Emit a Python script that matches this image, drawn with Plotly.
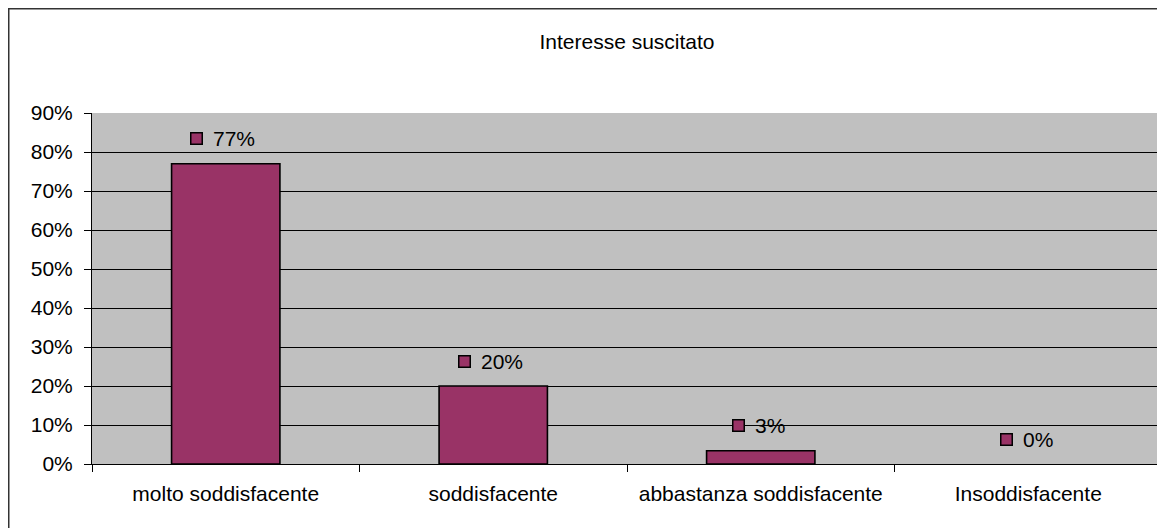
import plotly.graph_objects as go

categories = ["molto soddisfacente", "soddisfacente", "abbastanza soddisfacente", "Insoddisfacente"]
values = [77, 20, 3.4, 0]
labels = ["77%", "20%", "3%", "0%"]
y_ticks = [0, 10, 20, 30, 40, 50, 60, 70, 80, 90]
y_tick_labels = ["0%", "10%", "20%", "30%", "40%", "50%", "60%", "70%", "80%", "90%"]
title_text = "Interesse suscitato"

# page has an 8px body margin, so the figure is sized/placed accordingly
W, H = 1157, 520
ML, MR, MT, MB = 84, 3, 105, 64
BAR_COLOR = "#993366"
FONT = "Liberation Sans, Arial, sans-serif"
FS = 21

# no outline for zero-height bars (as in the original)
outline_widths = [1.6 if v > 0 else 0 for v in values]

fig = go.Figure()
fig.add_trace(go.Bar(
    x=categories, y=values,
    marker=dict(color=BAR_COLOR, line=dict(color="black", width=outline_widths)),
    width=0.405,
    hoverinfo="skip",
))

annotations = []
for cat, val, lab in zip(categories, values, labels):
    text_w = 0.667 * FS * len(lab)  # approximate label width in px
    group_w = 13 + 8 + text_w
    start = -group_w / 2 - 4
    annotations.append(dict(
        x=cat, y=val, xref="x", yref="y", text="", showarrow=False,
        width=10, height=10, bgcolor=BAR_COLOR, bordercolor="black", borderwidth=1.5,
        borderpad=0, xanchor="center", yanchor="middle",
        xshift=start + 6.5, yshift=25,
    ))
    annotations.append(dict(
        x=cat, y=val, xref="x", yref="y", text=lab, showarrow=False,
        xanchor="left", yanchor="middle", xshift=start + 21, yshift=25,
        font=dict(family=FONT, size=FS, color="black"),
    ))

pw = W - ML - MR
ph = H - MT - MB
# outer chart border (left and top edges visible)
x_left = (0.0 - ML) / pw
y_top = (H - MB - 0.0) / ph
shapes = [
    dict(type="line", xref="paper", yref="paper", x0=x_left, x1=x_left, y0=y_top, y1=-0.3,
         line=dict(color="#333333", width=3)),
    dict(type="line", xref="paper", yref="paper", x0=x_left, x1=1.05, y0=y_top, y1=y_top,
         line=dict(color="#333333", width=3)),
]

fig.update_layout(
    width=W, height=H,
    margin=dict(l=ML, r=MR, t=MT, b=MB),
    paper_bgcolor="white",
    plot_bgcolor="#c0c0c0",
    showlegend=False,
    bargap=0.6,
    title=dict(text=title_text, x=0.5, xref="paper", xanchor="center",
               y=1 - 34 / H, yanchor="middle",
               font=dict(family=FONT, size=FS, color="black")),
    font=dict(family=FONT, size=FS, color="black"),
    annotations=annotations,
    shapes=shapes,
)
fig.update_xaxes(
    showgrid=False, showline=True, linecolor="black", linewidth=1,
    ticks="outside", tickson="boundaries", ticklen=7, tickcolor="black", tickwidth=1,
    tickfont=dict(family=FONT, size=FS, color="black"),
    ticklabelstandoff=11,
    fixedrange=True,
)
fig.update_yaxes(
    range=[0, 90], tickvals=y_ticks, ticktext=y_tick_labels,
    showgrid=True, gridcolor="black", gridwidth=1,
    showline=True, linecolor="black", linewidth=1,
    zeroline=False,
    ticks="outside", ticklen=7, tickcolor="black", tickwidth=1,
    tickfont=dict(family=FONT, size=FS, color="black"),
    ticklabelstandoff=7,
    fixedrange=True,
)

fig.write_html("out.html")
